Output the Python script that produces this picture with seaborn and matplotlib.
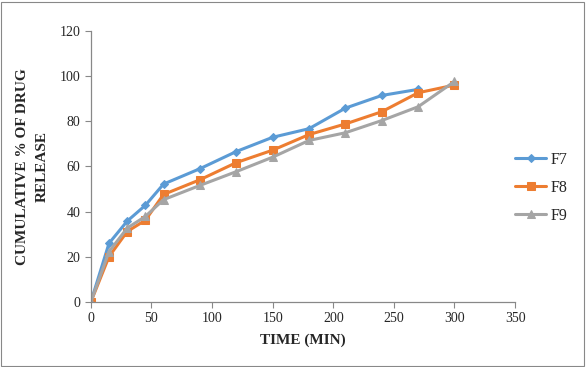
import pandas as pd
import matplotlib.pyplot as plt
import seaborn as sns
from matplotlib.patches import Rectangle

# Time points (min) and cumulative % drug release
time_f7 = [0, 15, 30, 45, 60, 90, 120, 150, 180, 210, 240, 270]
f7 = [0, 26.0, 35.8, 42.8, 52.2, 59.0, 66.6, 72.9, 76.7, 85.8, 91.4, 94.1]

time_f8 = [0, 15, 30, 45, 60, 90, 120, 150, 180, 210, 240, 270, 300]
f8 = [0, 20.1, 31.2, 36.2, 47.6, 54.1, 61.7, 67.2, 74.1, 78.8, 84.2, 92.6, 96.0]

time_f9 = [0, 15, 30, 45, 60, 90, 120, 150, 180, 210, 240, 270, 300]
f9 = [0, 22.3, 32.7, 37.9, 45.3, 51.6, 57.7, 64.1, 71.5, 74.9, 80.3, 86.4, 97.6]

x_ticks = [0, 50, 100, 150, 200, 250, 300, 350]
y_ticks = [0, 20, 40, 60, 80, 100, 120]

df = pd.concat([
    pd.DataFrame({'Time': time_f7, 'Release': f7, 'Batch': 'F7'}),
    pd.DataFrame({'Time': time_f8, 'Release': f8, 'Batch': 'F8'}),
    pd.DataFrame({'Time': time_f9, 'Release': f9, 'Batch': 'F9'}),
])

sns.set_style('white')
plt.rcParams['font.family'] = ['Liberation Serif', 'DejaVu Serif']

fig = plt.figure(figsize=(5.86, 3.67), dpi=100)
ax = fig.add_axes([0.155, 0.177, 0.724, 0.739])

palette = {'F7': '#5B9BD5', 'F8': '#ED7D31', 'F9': '#A5A5A5'}
markers = {'F7': 'D', 'F8': 's', 'F9': '^'}
sizes = {'F7': 4, 'F8': 6, 'F9': 6}

for batch in ['F7', 'F8', 'F9']:
    sub = df[df['Batch'] == batch]
    sns.lineplot(x='Time', y='Release', data=sub, ax=ax, color=palette[batch],
                 marker=markers[batch], markersize=sizes[batch],
                 markeredgecolor=palette[batch], linewidth=2.2, label=batch)

ax.set_xlim(0, 350)
ax.set_ylim(0, 120)
ax.set_xticks(x_ticks)
ax.set_yticks(y_ticks)
ax.tick_params(axis='both', labelsize=10, length=4, width=0.8, color='#888888',
               direction='out', bottom=True, left=True)
for s in ['top', 'right']:
    ax.spines[s].set_visible(False)
for s in ['left', 'bottom']:
    ax.spines[s].set_color('#888888')
    ax.spines[s].set_linewidth(0.9)

ax.set_xlabel('TIME (MIN)', fontsize=11, fontweight='bold', labelpad=6)
ax.set_ylabel('CUMULATIVE % OF DRUG\nRELEASE', fontsize=11, fontweight='bold',
              labelpad=8, linespacing=1.6)

ax.legend(loc='center left', bbox_to_anchor=(0.855, 0.488), bbox_transform=fig.transFigure,
          frameon=False, fontsize=11.5, handlelength=1.9, labelspacing=0.75,
          handletextpad=0.3)

fig.patches.append(Rectangle((0.002, 0.003), 0.994, 0.992, transform=fig.transFigure,
                             fill=False, edgecolor='#888888', linewidth=0.8))

fig.savefig('out.png', dpi=100)
plt.close()
